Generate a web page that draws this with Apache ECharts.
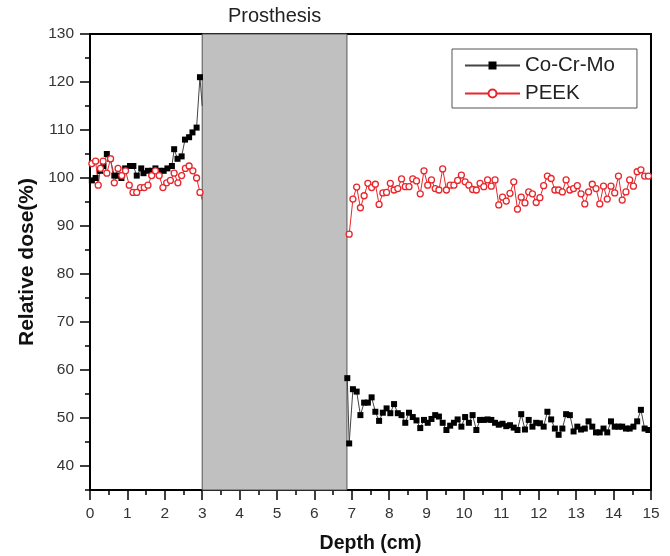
<!DOCTYPE html>
<html>
<head>
<meta charset="utf-8">
<script src="https://cdn.jsdelivr.net/npm/echarts@6/dist/echarts.min.js"></script>
<style>html,body{margin:0;padding:0;background:#fff}#c{width:670px;height:556px}</style>
</head>
<body>
<div id="c"></div>
<script>
// ---- data ----
var seriesNames = ['Co-Cr-Mo', 'PEEK'];
var prosthesisRange = [3.0, 6.87];
var prosthesisLabel = 'Prosthesis';
var yTickLabels = [40, 50, 60, 70, 80, 90, 100, 110, 120, 130];
var yMinorTicks = [35, 45, 55, 65, 75, 85, 95, 105, 115, 125];

var cocrDepthL = [0.05,0.15,0.27,0.36,0.45,0.54,0.65,0.76,0.84,0.94,1.07,1.16,1.25,1.37,1.43,1.55,1.66,1.75,1.86,1.97,2.07,2.19,2.25,2.34,2.45,2.54,2.65,2.74,2.85,2.94,3.0];
var cocrDoseL = [99.5,100,101.5,102.5,105,104,100.5,100.5,100,102,102.5,102.5,100.5,102,101,101.5,101.5,102,101.5,101.5,102,102.5,106,104,104.5,108,108.5,109.5,110.5,121,115];

var peekDepthL = [0.05,0.15,0.22,0.28,0.35,0.45,0.55,0.65,0.75,0.85,0.95,1.05,1.15,1.25,1.35,1.45,1.55,1.65,1.75,1.85,1.95,2.05,2.15,2.25,2.35,2.45,2.55,2.65,2.75,2.85,2.94,3.0];
var peekDoseL = [103,103.5,98.5,102,103.5,101,104,99,102,100.5,101.5,98.5,97,97,98,98,98.5,100.5,101.5,100.5,98,99,99.5,101,99,100.5,102,102.5,101.5,100,97,95.5];

var depthR = [6.93,7.03,7.13,7.23,7.33,7.43,7.53,7.63,7.73,7.83,7.93,8.03,8.13,8.23,8.33,8.43,8.53,8.63,8.73,8.83,8.93,9.03,9.13,9.23,9.33,9.43,9.53,9.63,9.73,9.83,9.93,10.03,10.13,10.23,10.33,10.43,10.53,10.63,10.73,10.83,10.93,11.03,11.13,11.23,11.33,11.43,11.53,11.63,11.73,11.83,11.93,12.03,12.13,12.23,12.33,12.43,12.53,12.63,12.73,12.83,12.93,13.03,13.13,13.23,13.33,13.43,13.53,13.63,13.73,13.83,13.93,14.03,14.13,14.23,14.33,14.43,14.53,14.63,14.73,14.83,14.93];

var cocrEdgeDepth = 6.88;
var cocrEdgeDose = 58.3;
var cocrDoseR = [44.7,56,55.5,50.6,53.2,53.2,54.3,51.3,49.4,51.1,52,51,52.9,51,50.6,49,51.1,50.2,49.5,47.9,49.6,49,49.8,50.6,50.3,49,47.5,48.4,49,49.7,48.2,50.2,49,50.6,47.5,49.6,49.6,49.7,49.6,49,48.6,
  48.8,48.3,48.5,48,47.5,50.8,47.6,49.6,48.2,49,48.9,48.2,51.3,49.7,47.8,46.5,47.8,50.8,50.6,47.2,48.2,47.6,47.8,49.3,48.2,47,47,47.8,47,49.3,48.2,48.2,48.2,47.8,47.8,48.2,49.3,51.7,47.8,47.5];

var peekDoseR = [88.3,95.6,98.1,93.8,96.3,98.9,98,98.7,94.5,96.9,97,98.9,97.5,97.8,99.8,98.2,98.2,99.8,99.4,96.7,101.5,98.5,99.6,97.8,97.5,101.9,97.5,98.5,98.5,99.5,100.6,99.2,98.5,97.6,97.5,98.9,98.2,99.6,98.3,99.6,94.4,
  96,95.2,96.8,99.2,93.5,96,94.8,97.1,96.7,94.9,95.9,98.4,100.4,99.9,97.5,97.5,97.1,99.6,97.5,97.8,98.4,96.7,94.6,97.1,98.7,97.8,94.6,98.3,95.6,98.3,96.9,100.4,95.4,97.1,99.6,98.3,101.3,101.7,100.4,100.4];

// ---- build ----
function pairs(xs, ys) {
  return xs.map(function (x, i) {
    // points lying on the prosthesis edge are hidden under the box in the original
    if (x === prosthesisRange[0]) return { value: [x, ys[i]], symbolSize: 0 };
    return [x, ys[i]];
  });
}
var gap = ['-', '-'];
var cocrData = pairs(cocrDepthL, cocrDoseL).concat([gap], [[cocrEdgeDepth, cocrEdgeDose]], pairs(depthR, cocrDoseR));
var peekData = pairs(peekDepthL, peekDoseL).concat([gap], pairs(depthR, peekDoseR));

var FONT = '"Liberation Sans", Arial, sans-serif';
var chart = echarts.init(document.getElementById('c'), null, { renderer: 'canvas' });
chart.setOption({
  animation: false,
  backgroundColor: '#fff',
  textStyle: { fontFamily: FONT },
  grid: { left: 90, right: 19, top: 34, bottom: 66, outerBoundsMode: 'none', containLabel: false, show: true, borderColor: '#000', borderWidth: 2, backgroundColor: 'transparent' },
  legend: {
    data: seriesNames,
    orient: 'vertical',
    left: 452, top: 49,
    padding: [6, 22, 4, 12],
    itemGap: 7,
    itemWidth: 55, itemHeight: 10,
    borderColor: '#555', borderWidth: 1,
    backgroundColor: '#fff',
    textStyle: { fontSize: 20.5, color: '#222', fontFamily: FONT }
  },
  xAxis: {
    type: 'value', min: 0, max: 15, interval: 1,
    name: 'Depth (cm)', nameLocation: 'middle', nameGap: 44,
    nameTextStyle: { fontSize: 19.5, fontWeight: 'bold', color: '#111', fontFamily: FONT },
    axisLine: { show: true, onZero: false, lineStyle: { color: '#000', width: 2 } },
    axisTick: { show: true, length: 10, lineStyle: { color: '#000', width: 1.5 } },
    minorTick: { show: true, splitNumber: 2, length: 5, lineStyle: { color: '#000', width: 1.5 } },
    axisLabel: { fontSize: 15.5, color: '#333', margin: 16, fontFamily: FONT },
    splitLine: { show: false }
  },
  yAxis: [{
    type: 'value', min: 35, max: 130,
    name: 'Relative dose(%)', nameLocation: 'middle', nameGap: 52, nameRotate: 90,
    nameTextStyle: { fontSize: 21, fontWeight: 'bold', color: '#111', fontFamily: FONT },
    axisLine: { show: true, onZero: false, lineStyle: { color: '#000', width: 2 } },
    axisTick: { show: true, length: 10, customValues: yTickLabels, lineStyle: { color: '#000', width: 1.5 } },
    axisLabel: { fontSize: 15.5, color: '#333', margin: 16, customValues: yTickLabels, fontFamily: FONT },
    splitLine: { show: false }
  }, {
    type: 'value', min: 35, max: 130, position: 'left',
    axisLine: { show: false },
    axisTick: { show: true, length: 5, customValues: yMinorTicks, lineStyle: { color: '#000', width: 1.5 } },
    axisLabel: { show: false, customValues: yMinorTicks },
    splitLine: { show: false }
  }],
  series: [{
    name: seriesNames[0], type: 'line', z: 2,
    data: cocrData,
    connectNulls: false,
    symbol: 'rect', symbolSize: 6,
    itemStyle: { color: '#000' },
    lineStyle: { color: '#444', width: 1 }
  }, {
    name: seriesNames[1], type: 'line', z: 2,
    data: peekData,
    connectNulls: false,
    symbol: 'circle', symbolSize: 6,
    itemStyle: { color: '#fff', borderColor: '#e8262b', borderWidth: 1.3 },
    lineStyle: { color: '#e8262b', width: 1 }
  }, {
    name: 'box', type: 'line', z: 5, data: [],
    markArea: {
      silent: true,
      itemStyle: { color: '#c0c0c0', borderColor: '#555', borderWidth: 1, opacity: 1 },
      label: { show: true, position: 'top', distance: 7, fontSize: 20, color: '#222', fontFamily: FONT },
      data: [[{ name: prosthesisLabel, xAxis: prosthesisRange[0], yAxis: 130 }, { xAxis: prosthesisRange[1], yAxis: 35 }]]
    }
  }]
});
</script>
</body>
</html>
